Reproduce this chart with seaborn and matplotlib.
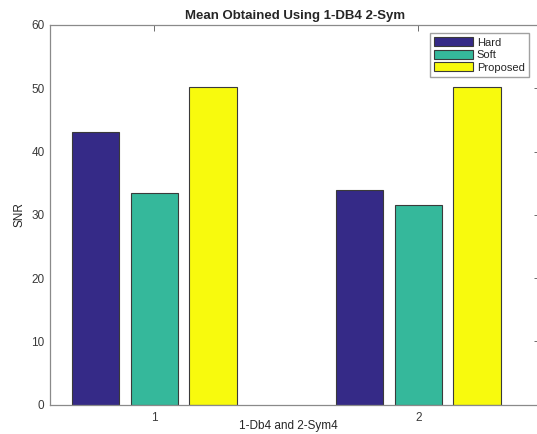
import pandas as pd
import matplotlib
matplotlib.use("Agg")
import matplotlib.pyplot as plt
import seaborn as sns

# values
groups = ["1", "2"]
methods = ["Hard", "Soft", "Proposed"]
hard = [43.1, 34.0]
soft = [33.5, 31.5]
proposed = [50.2, 50.2]
colors = ["#352A87", "#35B89B", "#F8FA0D"]

df = pd.DataFrame({
    "group": groups * 3,
    "method": [m for m in methods for _ in groups],
    "snr": hard + soft + proposed,
})

sns.set_theme(style="white")
plt.rcParams["font.family"] = ["Liberation Sans", "DejaVu Sans"]
plt.rcParams["text.color"] = "#262626"
plt.rcParams["axes.labelcolor"] = "#262626"

fig = plt.figure(figsize=(5.37, 4.34), dpi=100)
ax = fig.add_axes([0.0931, 0.0675, 0.9125, 0.875])

sns.barplot(data=df, x="group", y="snr", hue="method", hue_order=methods,
            palette=colors, saturation=1, width=0.667, gap=0.19,
            errorbar=None, edgecolor="#3a3a3a", linewidth=0.8, ax=ax)

ax.set_xlim(-0.395, 1.461)
ax.set_ylim(0, 60)
ax.set_yticks([0, 10, 20, 30, 40, 50, 60])
ax.set_xlabel("1-Db4 and 2-Sym4", fontsize=8.5, va="center")
ax.xaxis.set_label_coords(0.486, -0.057)
ax.set_ylabel("SNR", fontsize=8.5, labelpad=4)
ax.set_title("Mean Obtained Using 1-DB4 2-Sym", fontsize=9.5, fontweight="bold", pad=4)

ax.tick_params(axis="both", direction="in", length=4, width=0.6, labelsize=8.5,
               colors="#555555", labelcolor="#3a3a3a", top=True, right=True)
ax.tick_params(axis="x", pad=5)
ax.tick_params(axis="y", pad=4)
for s in ax.spines.values():
    s.set_color("#8a8a8a")
    s.set_linewidth(0.9)

handles, labels = ax.get_legend_handles_labels()
ax.legend(handles, labels, loc="upper right", bbox_to_anchor=(0.9776, 0.979),
          fontsize=8, frameon=True, fancybox=False, edgecolor="#8a8a8a",
          handlelength=3.5, handleheight=0.85, handletextpad=0.3,
          labelspacing=0.2, borderpad=0.4, borderaxespad=0)

fig.savefig("out.png", dpi=100)
